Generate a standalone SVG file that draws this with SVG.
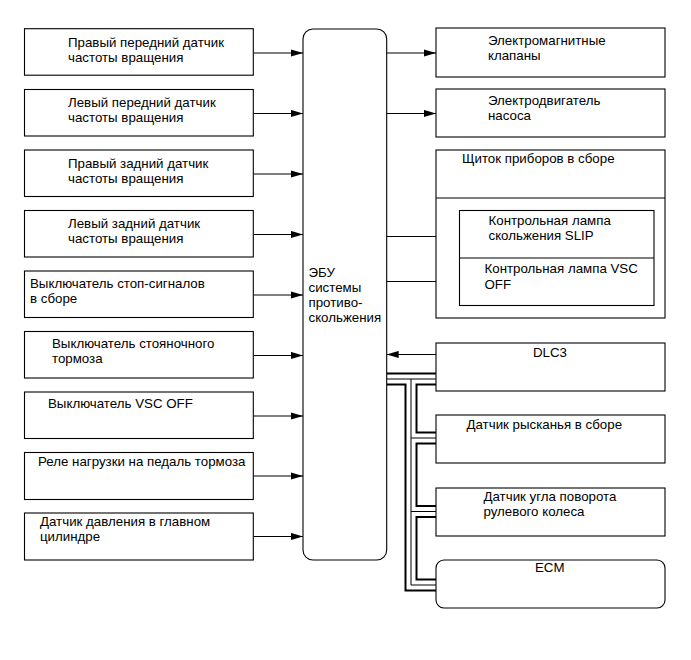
<svg xmlns="http://www.w3.org/2000/svg" width="691" height="660" viewBox="0 0 691 660">
<style>
  .box{fill:#fff;stroke:#000;stroke-width:1.1}
  .t{font-family:"Liberation Sans",Arial,sans-serif;font-size:13.3px;fill:#000}
  .arr{stroke:#000;stroke-width:1.1;fill:none;marker-end:url(#ah)}
  .busB{fill:none;stroke:#000;stroke-width:13;stroke-linejoin:miter}
  .busW{fill:none;stroke:#fff;stroke-width:9;stroke-linejoin:miter}
  .busC{fill:none;stroke:#000;stroke-width:1;stroke-linejoin:miter}
</style>
<defs>
  <marker id="ah" markerUnits="userSpaceOnUse" markerWidth="13" markerHeight="8" refX="12" refY="4" orient="auto">
    <path d="M0,0.4 L12,4 L0,7.6 Z" fill="#000"/>
  </marker>
</defs>
<rect width="691" height="660" fill="#fff"/>

<g id="connectors">
  <line class="arr" x1="253.5" y1="53" x2="303" y2="53"/>
  <line class="arr" x1="253.5" y1="113.5" x2="303" y2="113.5"/>
  <line class="arr" x1="253.5" y1="174" x2="303" y2="174"/>
  <line class="arr" x1="253.5" y1="234.5" x2="303" y2="234.5"/>
  <line class="arr" x1="253.5" y1="295" x2="303" y2="295"/>
  <line class="arr" x1="253.5" y1="355.5" x2="303" y2="355.5"/>
  <line class="arr" x1="253.5" y1="416" x2="303" y2="416"/>
  <line class="arr" x1="253.5" y1="476" x2="303" y2="476"/>
  <line class="arr" x1="253.5" y1="536.5" x2="303" y2="536.5"/>
  <line class="arr" x1="386.7" y1="53" x2="436" y2="53"/>
  <line class="arr" x1="386.7" y1="113.5" x2="436" y2="113.5"/>
  <line class="arr" x1="386.7" y1="236.5" x2="459.5" y2="236.5"/>
  <line class="arr" x1="386.7" y1="281.5" x2="459.5" y2="281.5"/>
  <line class="arr" x1="436" y1="354.5" x2="386.7" y2="354.5"/>
  <g id="bus">
    <path class="busB" d="M386.7,379 H436 M411,379 V585 H436 M411,438 H436 M411,511.5 H436"/>
    <path class="busW" d="M386.7,379 H436 M411,379 V585 H436 M411,438 H436 M411,511.5 H436"/>
    <path class="busC" d="M386.7,379 H436 M411,379 V585 H436 M411,438 H436 M411,511.5 H436"/>
  </g>
</g>

<g id="ecu">
  <rect class="box" x="303" y="29" width="83.7" height="531" rx="10"/>
  <text class="t" x="308.5" y="277">ЭБУ</text>
  <text class="t" x="308.5" y="292">системы</text>
  <text class="t" x="308.5" y="307">противо-</text>
  <text class="t" x="308.5" y="322">скольжения</text>
</g>

<g id="l1"><rect class="box" x="24.5" y="28.7" width="228.8" height="46.5"/>
  <text class="t" x="68" y="46.5">Правый передний датчик</text>
  <text class="t" x="68" y="61.5">частоты вращения</text></g>
<g id="l2"><rect class="box" x="24.5" y="89.5" width="228.8" height="46.5"/>
  <text class="t" x="68" y="107">Левый передний датчик</text>
  <text class="t" x="68" y="122">частоты вращения</text></g>
<g id="l3"><rect class="box" x="24.5" y="150" width="228.8" height="46.5"/>
  <text class="t" x="68" y="167.5">Правый задний датчик</text>
  <text class="t" x="68" y="182.5">частоты вращения</text></g>
<g id="l4"><rect class="box" x="24.5" y="210.5" width="228.8" height="46.5"/>
  <text class="t" x="68" y="228">Левый задний датчик</text>
  <text class="t" x="68" y="243">частоты вращения</text></g>
<g id="l5"><rect class="box" x="24.5" y="271" width="228.8" height="46.5"/>
  <text class="t" x="30" y="288">Выключатель стоп-сигналов</text>
  <text class="t" x="30" y="303">в сборе</text></g>
<g id="l6"><rect class="box" x="24.5" y="331.5" width="228.8" height="46.5"/>
  <text class="t" x="52" y="348">Выключатель стояночного</text>
  <text class="t" x="52" y="363">тормоза</text></g>
<g id="l7"><rect class="box" x="24.5" y="392" width="228.8" height="46.5"/>
  <text class="t" x="48" y="407.5">Выключатель VSC OFF</text></g>
<g id="l8"><rect class="box" x="24.5" y="452.5" width="228.8" height="47"/>
  <text class="t" x="38" y="466">Реле нагрузки на педаль тормоза</text></g>
<g id="l9"><rect class="box" x="24.5" y="513" width="228.8" height="47"/>
  <text class="t" x="40" y="525.5">Датчик давления в главном</text>
  <text class="t" x="40" y="540.5">цилиндре</text></g>

<g id="r1"><rect class="box" x="436" y="28" width="229" height="49"/>
  <text class="t" x="488" y="44.5">Электромагнитные</text>
  <text class="t" x="488" y="59.5">клапаны</text></g>
<g id="r2"><rect class="box" x="436" y="89" width="229" height="48"/>
  <text class="t" x="488" y="104.5">Электродвигатель</text>
  <text class="t" x="488" y="119.5">насоса</text></g>
<g id="cluster">
  <rect class="box" x="436" y="150" width="229" height="168"/>
  <line x1="436" y1="198" x2="665" y2="198" stroke="#000" stroke-width="1.1"/>
  <text class="t" x="462" y="162.5">Щиток приборов в сборе</text>
  <g id="slip"><rect class="box" x="459.5" y="210.5" width="194.5" height="95"/>
    <line x1="459.5" y1="258" x2="654" y2="258" stroke="#000" stroke-width="1.1"/>
    <text class="t" x="488.5" y="225">Контрольная лампа</text>
    <text class="t" x="488.5" y="240">скольжения SLIP</text>
    <text class="t" x="484.5" y="272.5">Контрольная лампа VSC</text>
    <text class="t" x="484.5" y="288.5">OFF</text></g>
</g>
<g id="dlc3"><rect class="box" x="436" y="343" width="229" height="48"/>
  <text class="t" x="533" y="357">DLC3</text></g>
<g id="yaw"><rect class="box" x="436" y="415" width="229" height="48"/>
  <text class="t" x="466.5" y="429">Датчик рысканья в сборе</text></g>
<g id="steer"><rect class="box" x="436" y="488" width="229" height="48"/>
  <text class="t" x="483.5" y="500.5">Датчик угла поворота</text>
  <text class="t" x="483.5" y="516">рулевого колеса</text></g>
<g id="ecm"><rect class="box" x="436" y="560" width="229" height="48" rx="8"/>
  <text class="t" x="535" y="572">ECM</text></g>
</svg>
